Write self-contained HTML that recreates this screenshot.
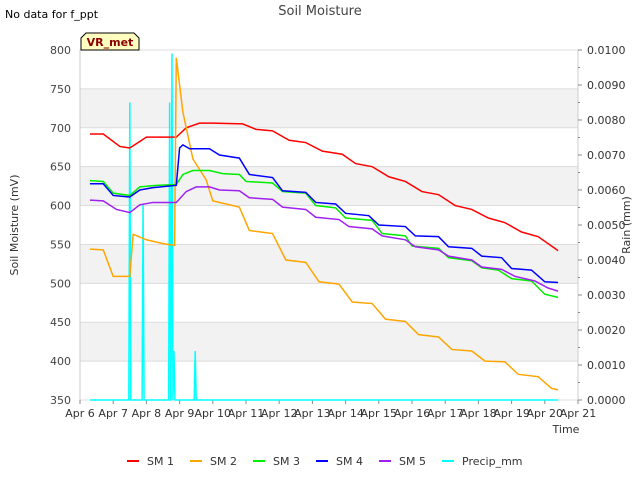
<!DOCTYPE html>
<html><head><meta charset="utf-8"><style>
body{margin:0;background:#fff;font-family:"Liberation Sans","DejaVu Sans",sans-serif;}
svg text{font-family:"DejaVu Sans","Liberation Sans",sans-serif;}
</style></head><body>
<svg id="chart" width="640" height="480" xmlns="http://www.w3.org/2000/svg">
<rect width="640" height="480" fill="#fff"/>
<text x="5" y="18" font-size="11" fill="#000">No data for f_ppt</text>
<text x="320" y="15" font-size="13" fill="#444" text-anchor="middle">Soil Moisture</text>
<g id="bands"></g><g id="grid"></g><g id="axes"></g><g id="series"></g>
<text x="18" y="225" font-size="11" fill="#333" text-anchor="middle" transform="rotate(-90 18 225)">Soil Moisture (mV)</text>
<text x="630" y="225" font-size="11" fill="#333" text-anchor="middle" transform="rotate(-90 630 225)">Rain (mm)</text>
<text x="566" y="433" font-size="11" fill="#333" text-anchor="middle">Time</text>
<g>
<path d="M81,50 L81,38 L86,33 L134,33 L139,38 L139,50 Z" fill="#ffffc0" stroke="#000" stroke-width="1"/>
<text x="110" y="46" font-size="11" font-weight="bold" fill="#8b0000" text-anchor="middle">VR_met</text></g>
<g id="legend"></g>
</svg>
<script>
const xTicks=["Apr 6","Apr 7","Apr 8","Apr 9","Apr 10","Apr 11","Apr 12","Apr 13","Apr 14","Apr 15","Apr 16","Apr 17","Apr 18","Apr 19","Apr 20","Apr 21"];
const yTicks=[350,400,450,500,550,600,650,700,750,800];
const y2Ticks=[0,0.001,0.002,0.003,0.004,0.005,0.006,0.007,0.008,0.009,0.01];
const sm1Days=[6.3,6.7,7.2,7.5,8.0,8.9,9.2,9.6,10.0,10.9,11.3,11.8,12.3,12.8,13.3,13.9,14.3,14.8,15.3,15.8,16.3,16.8,17.3,17.8,18.3,18.8,19.3,19.8,20.4];
const sm1Vals=[692,692,676,674,688,688,700,706,706,705,698,696,684,681,670,666,654,650,637,631,618,614,600,595,584,578,566,560,542];
const sm2Days=[6.3,6.7,7.0,7.5,7.6,8.0,8.5,8.85,8.9,9.1,9.4,9.8,10.0,10.8,11.1,11.8,12.2,12.8,13.2,13.8,14.2,14.8,15.2,15.8,16.2,16.8,17.2,17.8,18.2,18.8,19.2,19.8,20.2,20.4];
const sm2Vals=[544,543,509,509,563,556,551,549,790,720,660,633,606,598,568,564,530,527,502,499,476,474,454,451,434,431,415,413,400,399,383,380,365,363];
const sm3Days=[6.3,6.7,7.0,7.5,7.8,8.3,8.9,9.1,9.4,9.9,10.3,10.8,11.0,11.8,12.1,12.8,13.1,13.7,14.0,14.8,15.1,15.8,16.0,16.8,17.1,17.8,18.1,18.6,19.0,19.6,20.0,20.4];
const sm3Vals=[632,631,616,613,624,626,627,640,645,645,641,640,631,629,618,616,600,597,584,581,564,561,548,545,533,529,520,517,506,503,486,482];
const sm4Days=[6.3,6.7,7.0,7.5,7.8,8.2,8.9,9.0,9.1,9.3,9.9,10.2,10.8,11.1,11.8,12.1,12.8,13.1,13.7,14.0,14.7,15.0,15.8,16.1,16.8,17.1,17.8,18.1,18.7,19.0,19.6,20.0,20.4];
const sm4Vals=[628,628,613,611,620,623,626,674,678,673,673,665,661,640,636,619,617,604,602,590,587,575,573,561,560,547,545,535,533,519,517,502,501];
const sm5Days=[6.3,6.7,7.1,7.5,7.8,8.2,8.9,9.2,9.5,9.9,10.2,10.8,11.1,11.8,12.1,12.8,13.1,13.8,14.1,14.8,15.1,15.8,16.1,16.8,17.1,17.8,18.1,18.7,19.1,19.7,20.1,20.4];
const sm5Vals=[607,606,595,591,601,604,604,618,624,624,620,619,610,608,598,595,585,582,573,570,561,556,547,543,535,530,521,518,509,503,494,490];
const rainDays=[7.5,7.9,8.7,8.77,8.83,9.47];
const rainVals=[0.0085,0.0056,0.0085,0.0099,0.0014,0.0014];
const rainStart=6.3, rainEnd=20.4;

const X0=80,X1=578,Y0=400,Y1=50;
const xs=d=>X0+(d-6)*(X1-X0)/15;
const ys=v=>Y0-(v-350)*(Y0-Y1)/450;
const y2s=v=>Y0-v*(Y0-Y1)/0.01;
const NS="http://www.w3.org/2000/svg";
function mk(tag,attrs,parent){const e=document.createElementNS(NS,tag);for(const k in attrs)e.setAttribute(k,attrs[k]);parent.appendChild(e);return e;}
const bands=document.getElementById('bands'),grid=document.getElementById('grid'),axes=document.getElementById('axes'),series=document.getElementById('series'),legend=document.getElementById('legend');
for(let i=0;i<yTicks.length-1;i++){if(i%2===1){const r=mk('rect',{x:X0,y:ys(yTicks[i+1]),width:X1-X0,height:ys(yTicks[i])-ys(yTicks[i+1]),fill:'#f2f2f2'},bands);

}}
yTicks.forEach(v=>{const l=mk('line',{x1:X0,x2:X1,y1:ys(v),y2:ys(v),stroke:'#dcdcdc','stroke-width':1},grid);


const t=mk('text',{x:X0-9,y:ys(v)+4,'font-size':11,fill:'#444','text-anchor':'end'},axes);t.textContent=v;

});
mk('line',{x1:X0,x2:X0,y1:Y1,y2:Y0,stroke:'#ccc'},axes);
mk('line',{x1:X1,x2:X1,y1:Y1,y2:Y0,stroke:'#ccc'},axes);
xTicks.forEach((s,i)=>{const x=xs(6+i);mk('line',{x1:x,x2:x,y1:Y0,y2:Y0+4,stroke:'#888'},axes);
const t=mk('text',{x:x,y:Y0+17,'font-size':11,fill:'#333','text-anchor':'middle'},axes);t.textContent=s;

});
y2Ticks.forEach(v=>{const y=y2s(v);mk('line',{x1:X1,x2:X1+4,y1:y,y2:y,stroke:'#888'},axes);
if(v<0.0095)mk('line',{x1:X1,x2:X1+2,y1:y-17.5,y2:y-17.5,stroke:'#888'},axes);
const t=mk('text',{x:X1+9,y:y+4,'font-size':11,fill:'#333'},axes);t.textContent=v.toFixed(4);

});
function line(days,vals,color,name,scale){const p=mk('polyline',{points:days.map((d,i)=>xs(d)+','+scale(vals[i])).join(' '),fill:'none',stroke:color,'stroke-width':1.5},series);

}
const rd=[rainStart],rv=[0];
rainDays.forEach((d,i)=>{rd.push(d-0.03,d,d+0.03);rv.push(0,rainVals[i],0);});
rd.push(rainEnd);rv.push(0);
line(rd,rv,'#00ffff','precip-series',y2s);
line(sm1Days,sm1Vals,'#ff0000','sm1-series',ys);
line(sm2Days,sm2Vals,'#ffa500','sm2-series',ys);
line(sm3Days,sm3Vals,'#00ee00','sm3-series',ys);
line(sm4Days,sm4Vals,'#0000ff','sm4-series',ys);
line(sm5Days,sm5Vals,'#a020f0','sm5-series',ys);
const legNames=["SM 1","SM 2","SM 3","SM 4","SM 5","Precip_mm"];
const legColors=['#ff0000','#ffa500','#00ee00','#0000ff','#a020f0','#00ffff'];
const legX=[127,190,253,316,379,442];
legNames.forEach((n,i)=>{const g=mk('g',{},legend);


mk('line',{x1:legX[i],x2:legX[i]+12,y1:461,y2:461,stroke:legColors[i],'stroke-width':2},g);
const t=mk('text',{x:legX[i]+20,y:465,'font-size':11,fill:'#333'},g);t.textContent=n;});
</script>
</body></html>
